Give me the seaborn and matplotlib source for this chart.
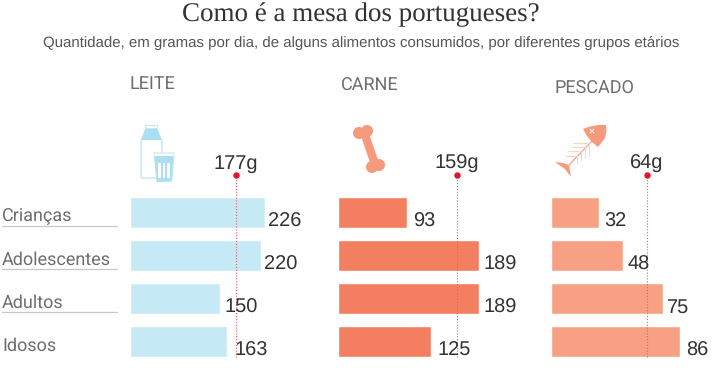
import matplotlib
matplotlib.use("Agg")
import matplotlib.pyplot as plt
from matplotlib.patches import Circle, Polygon, Rectangle, FancyBboxPatch
import seaborn as sns
import pandas as pd

# data
grupos = ["Crianças", "Adolescentes", "Adultos", "Idosos"]
alimentos = ["LEITE", "CARNE", "PESCADO"]
leite = [226, 220, 150, 163]
carne = [93, 189, 189, 125]
pescado = [32, 48, 75, 86]
referencia = [177, 159, 64]

W, H = 716, 370
sns.set_theme(style="white")
plt.rcParams["font.family"] = ["Liberation Sans", "DejaVu Sans"]
plt.rcParams["text.hinting"] = "none"
plt.rcParams["text.hinting_factor"] = 1

# colours and pixel layout for each panel
cores = ["#C6E9F6", "#F47F60", "#F8A083"]
inicio = [130.4, 338.4, 551.4]
escala = [0.595, 0.743, 1.49]
titulo_xy = [(130, 84.5), (341, 85.5), (555, 88.5)]
label_dx = [[3, 3, 5, 7], [6, 5, 5, 6], [5, 5, 4, 7]]

fig = plt.figure(figsize=(W / 100, H / 100), dpi=100)


def px_axes(x0, y0, x1, y1):
    return fig.add_axes([x0 / W, 1 - y1 / H, (x1 - x0) / W, (y1 - y0) / H])


valores = [leite, carne, pescado]
for i, nome in enumerate(alimentos):
    df = pd.DataFrame({"grupo": grupos, "valor": valores[i]})
    ax = px_axes(inicio[i], 191, inicio[i] + 150, 363)
    sns.barplot(data=df, x="valor", y="grupo", color=cores[i], saturation=1,
                width=0.71, ax=ax)
    ax.set_xlim(0, 150 / escala[i])
    ax.set_ylim(3.5, -0.5)
    ax.axis("off")
    # reference line, drawn over the bars
    ax.axvline(referencia[i], ymin=0.035, ymax=1.095, color="#EE5A70", lw=0.8,
               ls=(0, (1, 1.6)), clip_on=False, zorder=5)
    ax.plot([referencia[i]], [1.095], transform=ax.get_xaxis_transform(),
            marker="o", ms=3.6, color="#E8112D", clip_on=False, zorder=6)
    ax.annotate(f"{referencia[i]}g", (referencia[i], 1.105),
                xycoords=ax.get_xaxis_transform(), ha="center", va="bottom",
                fontsize=14.5, color="#333333", annotation_clip=False)
    for j, v in enumerate(valores[i]):
        ax.annotate(str(v), (v, j), xytext=(label_dx[i][j] * 0.72, -9.5 * 0.72),
                    textcoords="offset points", ha="left", va="center",
                    fontsize=14.5, color="#333333", annotation_clip=False, zorder=7)

# overlay in pixel coordinates for the texts and the icons
ov = fig.add_axes([0, 0, 1, 1], zorder=-1)
ov.set_xlim(0, W)
ov.set_ylim(H, 0)
ov.axis("off")

ov.text(360.5, 15, "Como é a mesa dos portugueses?", ha="center", va="center",
        fontsize=19.7, family="Liberation Serif", color="#333333")
ov.text(361.5, 43, "Quantidade, em gramas por dia, de alguns alimentos consumidos, por diferentes grupos etários",
        ha="center", va="center", fontsize=10.85, color="#555555")

for nome, (x, y) in zip(alimentos, titulo_xy):
    ov.text(x, y, nome, ha="left", va="center", fontsize=13.2, family="Roboto",
            color="#6e6e6e")

linhas_y = [213, 257, 300, 343]
for g, y in zip(grupos, linhas_y):
    ov.text(2, y + 3, g, ha="left", va="center", fontsize=12.9, family="Roboto",
            color="#6e6e6e")
for y in [225.5, 269, 312]:
    ov.plot([2, 117], [y, y], color="#C8C8C8", lw=0.9)

# milk bottle and glass
azul = "#A9DEF3"
azul_l = "#C6E9F6"
ov.add_patch(FancyBboxPatch((141, 139), 21, 39, boxstyle="round,pad=0,rounding_size=2",
                            fc="white", ec=azul_l, lw=1.1))
ov.add_patch(Polygon([(145.5, 128), (157, 128), (162, 140), (141, 140)], fc=azul, ec="none"))
ov.add_patch(Rectangle((145, 125), 12, 3, fc="white", ec=azul_l, lw=0.8))
ov.add_patch(Polygon([(154, 153), (174, 153), (172, 181), (157, 182)], fc="white", ec=azul_l, lw=0.8, zorder=3))
ov.add_patch(Polygon([(154.5, 156), (173.5, 156), (171.5, 181), (157, 182)], fc=azul, ec="none", zorder=3))
for x in [158, 162.5, 167]:
    ov.add_patch(Rectangle((x, 163), 2.6, 15, fc="white", ec="none", zorder=4))

# bone
osso = "#F79A7C"
ov.plot([365, 375], [135, 164], color=osso, lw=6, solid_capstyle="butt")
for cx, cy in [(359, 133), (367, 131), (372, 167), (379, 165)]:
    ov.add_patch(Circle((cx, cy), 6, fc=osso, ec="none"))

# fish bones
ov.add_patch(Polygon([(583, 129), (590, 126.5), (598, 125), (606, 125), (606.5, 131), (605, 138),
                      (598, 147), (592, 142), (587, 136)], fc=osso, ec="none"))
ov.plot([593, 568], [140, 166], color=osso, lw=0.8)
ov.add_patch(Polygon([(555, 162), (563, 163), (569, 165), (571, 177), (565, 169)], fc=osso, ec="none"))
for k, (x, y) in enumerate([(589, 144), (585, 148), (581, 152), (577, 157)]):
    ov.plot([x, x - 16 + k * 1.5], [y - 1, y - 1], color="#FBD4C6", lw=0.8)
    ov.plot([x, x], [y, y + 12 - k * 2], color="#FBD4C6", lw=0.8)
ov.plot([590, 594], [129, 133], color="white", lw=0.6)
ov.plot([594, 590], [129, 133], color="white", lw=0.6)

fig.savefig("out.png", dpi=100, facecolor="white")
